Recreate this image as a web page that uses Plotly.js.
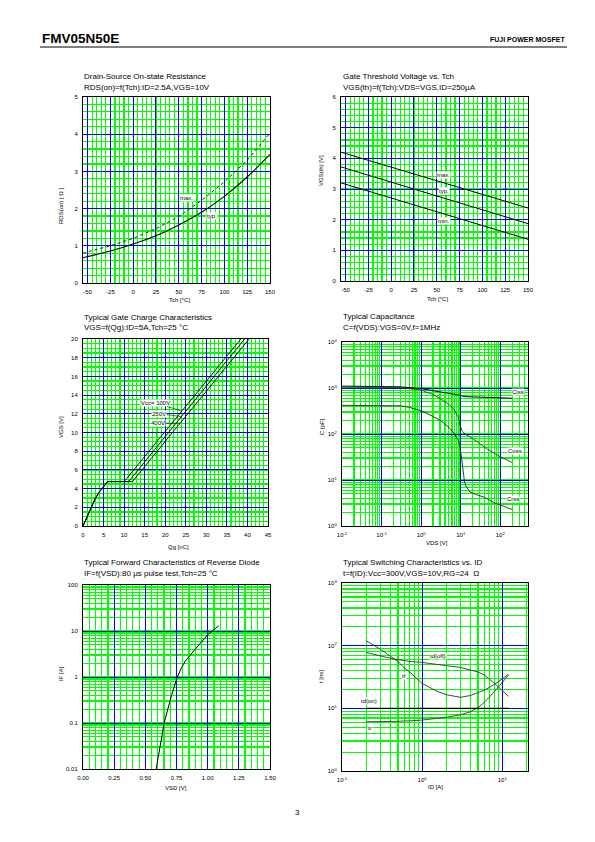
<!DOCTYPE html>
<html><head><meta charset="utf-8">
<script src="https://cdn.plot.ly/plotly-3.0.1.min.js"></script>
<style>html,body{margin:0;padding:0;background:#fff}#chart{width:595px;height:842px}</style>
</head><body><div id="chart"></div>
<script>
// ---------- Chart 1: RDS(on) vs Tch ----------
const tch1 = [-55,-50,-25,0,25,50,75,100,125,150];
const rdsTyp = [0.68,0.71,0.86,1.05,1.27,1.56,1.90,2.33,2.85,3.46];
const rdsMax = [0.80,0.84,1.00,1.20,1.46,1.79,2.22,2.72,3.30,4.03];
const tickT = [-50,-25,0,25,50,75,100,125,150];
const tickTText = ['-50','-25','0','25','50','75','100','125','150'];
const tick1y = [0,1,2,3,4,5];
// ---------- Chart 2: VGS(th) vs Tch ----------
const tch2 = [-55,150];
const vthMax = [4.20,2.38];
const vthTyp = [3.72,1.87];
const vthMin = [3.20,1.36];
const tick2y = [0,1,2,3,4,5,6];
// ---------- Chart 3: Gate charge ----------
const qg100 = [0,1,2,3,4,5,6,10.0,38.4];
const qg250 = [0,1,2,3,4,5,6,11.1,39.3];
const qg400 = [0,1,2,3,4,5,6,12.0,40.4];
const vgsQ  = [0,1.05,2.05,2.95,3.65,4.25,4.75,4.75,20];
const tick3x = [0,5,10,15,20,25,30,35,40,45];
const tick3y = [0,2,4,6,8,10,12,14,16,18,20];
// ---------- Chart 4: Capacitance ----------
const vdsCiss = [0.01,0.1,0.3,1,3,5,9,10,12,20,50,100,150,200];
const ciss    = [1100,1090,1060,970,830,760,700,690,650,640,630,620,600,600];
const vdsCoss = [0.01,0.1,0.3,1,2,3,5,6.5,8,8.6,9.3,9.9,11,12.8,20,45,100,200];
const coss    = [1050,1050,1030,900,720,590,440,360,270,235,180,143,115,100,80,48,32,24];
const vdsCrss = [0.01,0.1,0.3,0.5,1,2,3,5,7,8.5,9.5,10.5,11.5,12.5,14,17,25,40,70,100,150,200];
const crss    = [420,420,410,380,320,240,200,140,100,75,55,30,15,9,7,5.5,4.8,4.2,3.2,2.8,2.5,2.3];
const tick4x = [0.01,0.1,1,10,100];
const tick4xText = ['10<sup>-2</sup>','10<sup>-1</sup>','10<sup>0</sup>','10<sup>1</sup>','10<sup>2</sup>'];
const tick4y = [1,10,100,1000,10000];
const tick4yText = ['10<sup>0</sup>','10<sup>1</sup>','10<sup>2</sup>','10<sup>3</sup>','10<sup>4</sup>'];
// ---------- Chart 5: Reverse diode ----------
const vsd = [0.587,0.62,0.651,0.70,0.75,0.79,0.82,0.86,0.90,0.95,1.00,1.05,1.09];
const ifw = [0.01,0.032,0.1,0.32,0.9,1.6,2.2,3.0,4.0,5.8,8.3,10.7,13];
const tick5x = [0,0.25,0.5,0.75,1.0,1.25,1.5];
const tick5xText = ['0.00','0.25','0.50','0.75','1.00','1.25','1.50'];
const tick5y = [0.01,0.1,1,10,100];
const tick5yText = ['0.01','0.1','1','10','100'];
// ---------- Chart 6: Switching ----------
const idSw = [0.2,0.3,0.4,0.5,0.6,0.7,1,1.5,2,3,4,5,6,8,12];
const tdoff = [78,68,63,60,58,56,54,51,48,45,41,38,34,25,15.5];
const tf    = [120,88,68,56,44,38,25,19,16.5,15,16,17.6,19.5,24,35];
const tr    = [6.1,6.1,6.2,6.2,6.3,6.3,6.5,6.8,7.2,7.9,8.8,10.3,12.5,18.5,34];
const idOn  = [0.2,12];
const tdon  = [10,10];
const tick6x = [0.1,1,10];
const tick6xText = ['10<sup>-1</sup>','10<sup>0</sup>','10<sup>1</sup>'];
const tick6y = [1,10,100,1000];
const tick6yText = ['10<sup>0</sup>','10<sup>1</sup>','10<sup>2</sup>','10<sup>3</sup>'];

const W = 595, H = 842;
const FONT = 'Liberation Sans, Arial, sans-serif';
const BLUE = '#0000ff', GREEN = '#00ff00';
const px = x => x / W;
const py = y => 1 - y / H;
const boxes = [[83,270,97,283],[341,528,97,281],[83,268,339,526],[342,528,342,526],[83,270,585,769],[342,528,583,771]];

function axis(i, dir, opts) {
  const b = boxes[i];
  const base = {
    domain: dir === 'x' ? [px(b[0]), px(b[1])] : [py(b[3]), py(b[2])],
    anchor: (dir === 'x' ? 'y' : 'x') + (i === 0 ? '' : (i + 1)),
    showline: true, mirror: true, linecolor: '#000', linewidth: 1,
    showgrid: true, gridcolor: BLUE, gridwidth: 1, zeroline: false,
    ticks: 'outside', ticklen: 3, tickcolor: 'rgba(0,0,0,0)',
    tickfont: {family: FONT, size: 6, color: '#000'},
    tickmode: 'array', fixedrange: true
  };
  return Object.assign(base, opts);
}
function minorLin(d) { return {showgrid: true, gridcolor: GREEN, gridwidth: 1.2, dtick: d, tick0: 0, ticks: ''}; }
function minorLog() { return {showgrid: true, gridcolor: GREEN, gridwidth: 1.2, dtick: 'D1', ticks: ''}; }

const L = (w, dash, color) => ({color: color || '#000', width: w || 1, dash: dash || 'solid'});
const traces = [
  {x: tch1, y: rdsMax, xaxis: 'x', yaxis: 'y', mode: 'lines', line: L(1, 'dot', '#222')},
  {x: tch1, y: rdsTyp, xaxis: 'x', yaxis: 'y', mode: 'lines', line: L(1.1), line_shape: 'spline'},
  {x: tch2, y: vthMax, xaxis: 'x2', yaxis: 'y2', mode: 'lines', line: L(1)},
  {x: tch2, y: vthTyp, xaxis: 'x2', yaxis: 'y2', mode: 'lines', line: L(1)},
  {x: tch2, y: vthMin, xaxis: 'x2', yaxis: 'y2', mode: 'lines', line: L(1)},
  {x: qg100, y: vgsQ, xaxis: 'x3', yaxis: 'y3', mode: 'lines', line: L(0.9)},
  {x: qg250, y: vgsQ, xaxis: 'x3', yaxis: 'y3', mode: 'lines', line: L(0.9)},
  {x: qg400, y: vgsQ, xaxis: 'x3', yaxis: 'y3', mode: 'lines', line: L(0.9)},
  {x: vdsCiss, y: ciss, xaxis: 'x4', yaxis: 'y4', mode: 'lines', line: L(1)},
  {x: vdsCoss, y: coss, xaxis: 'x4', yaxis: 'y4', mode: 'lines', line: L(0.9, 'solid', '#333')},
  {x: vdsCrss, y: crss, xaxis: 'x4', yaxis: 'y4', mode: 'lines', line: L(0.9, 'solid', '#222')},
  {x: vsd, y: ifw, xaxis: 'x5', yaxis: 'y5', mode: 'lines', line: L(1)},
  {x: idSw, y: tdoff, xaxis: 'x6', yaxis: 'y6', mode: 'lines', line: L(0.9, 'solid', '#333')},
  {x: idSw, y: tf, xaxis: 'x6', yaxis: 'y6', mode: 'lines', line: L(0.9, 'solid', '#333')},
  {x: idSw, y: tr, xaxis: 'x6', yaxis: 'y6', mode: 'lines', line: L(0.9, 'solid', '#333')},
  {x: idOn, y: tdon, xaxis: 'x6', yaxis: 'y6', mode: 'lines', line: L(1.1)}
];
traces.forEach(t => { t.showlegend = false; t.hoverinfo = 'skip'; if (t.line_shape) { t.line.shape = 'spline'; delete t.line_shape; } });

const layout = {
  width: W, height: H, margin: {l: 0, r: 0, t: 0, b: 0},
  paper_bgcolor: '#fff', plot_bgcolor: '#fff', showlegend: false,
  font: {family: FONT, color: '#000'},
  xaxis:  axis(0, 'x', {range: [-55,150], tickvals: tickT, ticktext: tickTText, minor: minorLin(5)}),
  yaxis:  axis(0, 'y', {range: [0,5], tickvals: tick1y, ticktext: tick1y.map(String), minor: minorLin(0.2)}),
  xaxis2: axis(1, 'x', {range: [-55,150], tickvals: tickT, ticktext: tickTText, minor: minorLin(5)}),
  yaxis2: axis(1, 'y', {range: [0,6], tickvals: tick2y, ticktext: tick2y.map(String), minor: minorLin(0.2)}),
  xaxis3: axis(2, 'x', {range: [0,45], tickvals: tick3x, ticktext: tick3x.map(String), minor: minorLin(1)}),
  yaxis3: axis(2, 'y', {range: [0,20], tickvals: tick3y, ticktext: tick3y.map(String), minor: minorLin(0.5)}),
  xaxis4: axis(3, 'x', {type: 'log', range: [-2,2.7], tickvals: tick4x, ticktext: tick4xText, minor: minorLog()}),
  yaxis4: axis(3, 'y', {type: 'log', range: [0,4], tickvals: tick4y, ticktext: tick4yText, minor: minorLog()}),
  xaxis5: axis(4, 'x', {range: [0,1.5], tickvals: tick5x, ticktext: tick5xText, minor: minorLin(0.05)}),
  yaxis5: axis(4, 'y', {type: 'log', range: [-2,2], tickvals: tick5y, ticktext: tick5yText, minor: minorLog()}),
  xaxis6: axis(5, 'x', {type: 'log', range: [-1,1.322], tickvals: tick6x, ticktext: tick6xText, minor: minorLog()}),
  yaxis6: axis(5, 'y', {type: 'log', range: [0,3], tickvals: tick6y, ticktext: tick6yText, minor: minorLog()}),
  annotations: [],
  shapes: [
    {type: 'line', xref: 'paper', yref: 'paper', x0: px(40), x1: px(567), y0: py(47), y1: py(47), line: {color: '#000', width: 1}},
    {type: 'line', xref: 'x', yref: 'paper', x0: 75, x1: 75, y0: py(283), y1: py(97), layer: 'between', line: {color: '#fff', width: 1.5}},
    {type: 'line', xref: 'x', yref: 'paper', x0: 75, x1: 75, y0: py(283), y1: py(97), layer: 'between', line: {color: '#9999ff', width: 1, dash: 'dot'}}
  ]
};

const A = layout.annotations;
function ptext(text, x, y, size, opts) {
  A.push(Object.assign({text: text, xref: 'paper', yref: 'paper', x: px(x), y: py(y), showarrow: false,
    xanchor: 'left', yanchor: 'middle', font: {family: FONT, size: size, color: '#000'}}, opts || {}));
}
// header & footer
ptext('<b>FMV05N50E</b>', 40, 38, 13.5);
ptext('<b>FUJI POWER MOSFET</b>', 567, 39, 7, {xanchor: 'right'});
ptext('3', 297, 812, 8, {xanchor: 'center'});
// chart titles
const titles = [
  ['Drain-Source On-state Resistance', 'RDS(on)=f(Tch):ID=2.5A,VGS=10V', 82, 77, 87.5],
  ['Gate Threshold Voltage vs. Tch', 'VGS(th)=f(Tch):VDS=VGS,ID=250µA', 341, 77, 87.5],
  ['Typical Gate Charge Characteristics', 'VGS=f(Qg):ID=5A,Tch=25 °C', 82, 317, 327],
  ['Typical Capacitance', 'C=f(VDS):VGS=0V,f=1MHz', 341, 316.5, 327],
  ['Typical Forward Characteristics of Reverse Diode', 'IF=f(VSD):80 µs pulse test,Tch=25 °C', 82, 562, 573],
  ['Typical Switching Characteristics vs. ID', 't=f(ID):Vcc=300V,VGS=10V,RG=24  Ω', 341, 562, 573]
];
titles.forEach(t => { ptext(t[0], t[2], t[3], 8); ptext(t[1], t[2], t[4], 8); });
// axis titles
const xTitles = [['Tch [°C]', 179, 300], ['Tch [°C]', 437, 299], ['Qg [nC]', 178, 547], ['VDS [V]', 437, 543], ['VSD [V]', 176, 787.5], ['ID [A]', 435, 787]];
xTitles.forEach(t => ptext(t[0], t[1], t[2], 6, {xanchor: 'center'}));
const yTitles = [['RDS(on) [ Ω ]', 61, 206], ['VGS(th) [V]', 321, 171], ['VGS [V]', 61, 427], ['C [pF]', 322, 427], ['IF [A]', 61, 674], ['t [ns]', 321, 677]];
yTitles.forEach(t => ptext(t[0], t[1], t[2], 6, {xanchor: 'center', textangle: -90}));
// curve labels
function dlab(text, xr, yr, x, y, opts) {
  A.push(Object.assign({text: text, xref: xr, yref: yr, x: x, y: y, showarrow: false, bgcolor: '#fff', borderpad: 0,
    xanchor: 'center', yanchor: 'middle', font: {family: FONT, size: 6, color: '#000'}}, opts || {}));
}
dlab('max.', 'x', 'y', 58.8, 2.28);
dlab('typ.', 'x', 'y', 86.2, 1.80);
dlab('max.', 'x2', 'y2', 57.7, 3.45);
dlab('typ.', 'x2', 'y2', 57.7, 2.93);
dlab('min.', 'x2', 'y2', 57.7, 1.95);
const arr = {showarrow: true, arrowhead: 0, arrowwidth: 0.6, arrowcolor: '#000', standoff: 0};
dlab('Vcc= 100V', 'x3', 'y3', 24.0, 12.3, Object.assign({ax: -26, ay: -8}, arr));
dlab('250V', 'x3', 'y3', 23.9, 11.7, Object.assign({ax: -22, ay: -3}, arr));
dlab('400V', 'x3', 'y3', 23.6, 11.0, Object.assign({ax: -22, ay: 0}, arr));
dlab('Ciss', 'x4', 'y4', 2.447, 2.915);
dlab('Coss', 'x4', 'y4', 2.365, 1.634);
dlab('Crss', 'x4', 'y4', 2.32, 0.579);
dlab('td(off)', 'x6', 'y6', 0.195, 1.83);
dlab('tf', 'x6', 'y6', -0.232, 1.51);
dlab('td(on)', 'x6', 'y6', -0.66, 1.11);
dlab('tr', 'x6', 'y6', -0.65, 0.69);

Plotly.newPlot('chart', traces, layout, {staticPlot: true, displayModeBar: false});
</script>
</body></html>
